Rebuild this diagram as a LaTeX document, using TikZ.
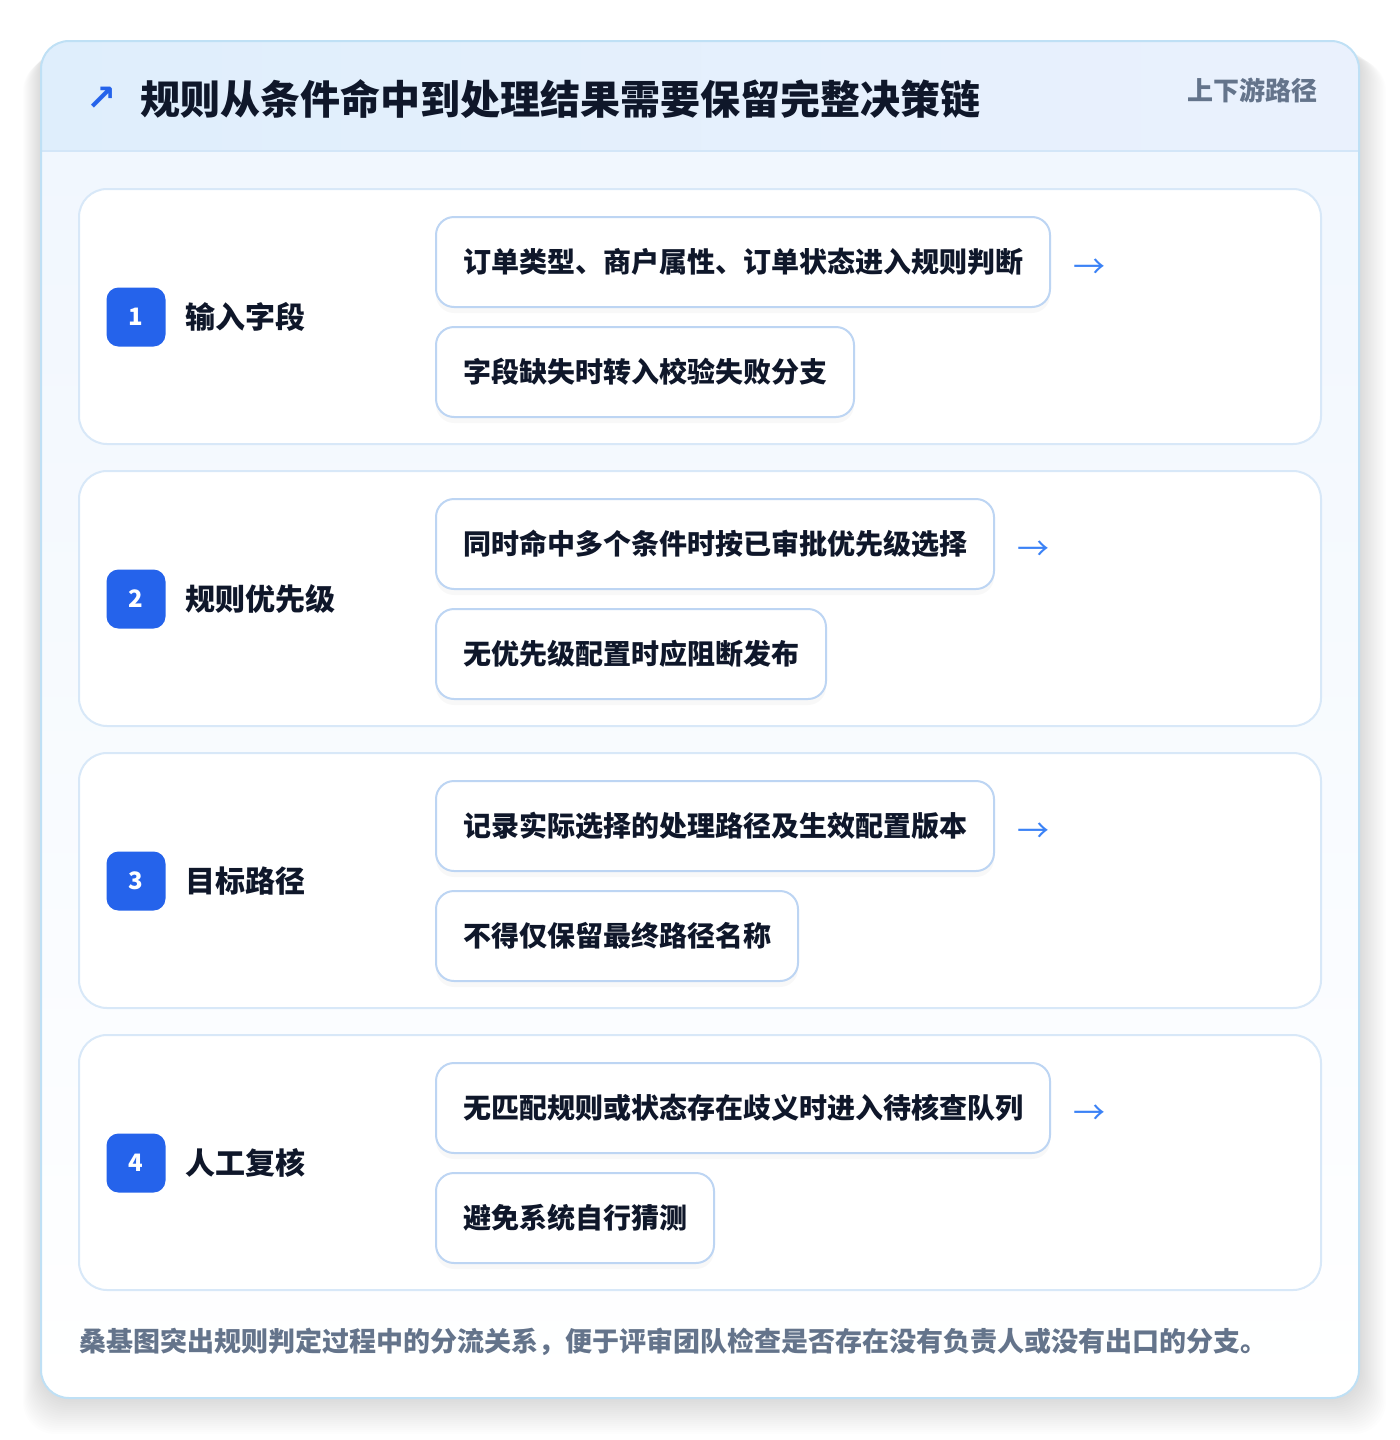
\documentclass[tikz,border=0pt]{standalone}
\usepackage{fontspec}
\setmainfont{Noto Sans CJK SC}
\newfontfamily\symfont{DejaVu Sans}
\usetikzlibrary{positioning,shadows}

\definecolor{ink}{HTML}{0F172A}
\definecolor{muted}{HTML}{64748B}
\definecolor{badgeblue}{HTML}{2563EB}
\definecolor{arrowblue}{HTML}{3B82F6}
\definecolor{cardline}{HTML}{BFE0F5}
\definecolor{headl}{HTML}{DFEEFC}
\definecolor{headr}{HTML}{EAF1FD}
\definecolor{headline}{HTML}{D3E6F8}
\definecolor{bodytop}{HTML}{F1F7FE}
\definecolor{sectionline}{HTML}{D8E8F8}
\definecolor{itemline}{HTML}{BDD5F3}

\tikzset{
  section/.style={draw=sectionline, line width=1pt, fill=white, rounded corners=14pt},
  badge/.style={fill=badgeblue, text=white, rounded corners=6pt, minimum size=29.5pt,
    inner sep=0pt, font=\bfseries\fontsize{12}{12}\selectfont},
  stage/.style={text=ink, inner sep=0pt, font=\bfseries\fontsize{15}{15}\selectfont},
  item/.style={draw=itemline, line width=1pt, fill=white, rounded corners=9pt,
    inner xsep=13.5pt, minimum height=45pt, text=ink,
    font=\bfseries\fontsize{14}{14}\selectfont,
    drop shadow={opacity=0.05, shadow xshift=0pt, shadow yshift=-3pt}},
  flow/.style={text=arrowblue, inner sep=0pt, yshift=-3.5pt, font=\fontsize{16}{16}\selectfont}
}

\begin{document}
\begin{tikzpicture}[x=0.5pt, y=-0.5pt, >=latex]
  \useasboundingbox (0,0) rectangle (1400,1440);
  % soft shadow under the card
  \foreach \s in {1,...,18}
  {
    \fill[black, opacity=0.007, rounded corners=16pt] (41-\s,41+\s) rectangle (1359+1.5*\s,1398+2*\s);
  }
  % card body and header
  \begin{scope}
    \clip[rounded corners=14pt] (41,41) rectangle (1359,1398);
    \shade[top color=bodytop, bottom color=white] (41,151) rectangle (1359,1398);
    \shade[left color=headl, right color=headr] (41,41) rectangle (1359,151);
    \draw[headline, line width=1pt] (41,151) -- (1359,151);
  \end{scope}
  \draw[cardline, line width=1pt, rounded corners=14pt] (41,41) rectangle (1359,1398);

  \node[anchor=west, inner sep=0pt, text=badgeblue, font=\symfont\bfseries\fontsize{18}{18}\selectfont] (icon) at (86,99) {↗};
  \node[anchor=west, inner sep=0pt, text=ink, font=\bfseries\fontsize{20}{20}\selectfont] (title) at (140,99)
    {规则从条件命中到处理结果需要保留完整决策链};
  \node[anchor=east, inner sep=0pt, text=muted, font=\bfseries\fontsize{13}{13}\selectfont] (tag) at (1318,90)
    {上下游路径};

  % four stages
  \foreach \i/\name/\first/\second in {
    1/输入字段/订单类型、商户属性、订单状态进入规则判断/字段缺失时转入校验失败分支,
    2/规则优先级/同时命中多个条件时按已审批优先级选择/无优先级配置时应阻断发布,
    3/目标路径/记录实际选择的处理路径及生效配置版本/不得仅保留最终路径名称,
    4/人工复核/无匹配规则或状态存在歧义时进入待核查队列/避免系统自行猜测}
  {
    \pgfmathsetmacro\ytop{189+(\i-1)*282}
    \draw[section] (79,\ytop) rectangle (1321,\ytop+255);
    \node[badge] (badge\i) at (136,\ytop+128) {\i};
    \node[stage, right=9.5pt of badge\i] (stage\i) {\name};
    \node[item, anchor=west] (first\i) at (435,\ytop+73) {\first};
    \node[item, anchor=west] (second\i) at (435,\ytop+183) {\second};
    \node[flow, right=11pt of first\i] (arrow\i) {→};
  }

  \node[anchor=west, inner sep=0pt, text=muted, font=\bfseries\fontsize{13.5}{14}\selectfont] (note) at (79,1342)
    {桑基图突出规则判定过程中的分流关系，便于评审团队检查是否存在没有负责人或没有出口的分支。};
\end{tikzpicture}
\end{document}
